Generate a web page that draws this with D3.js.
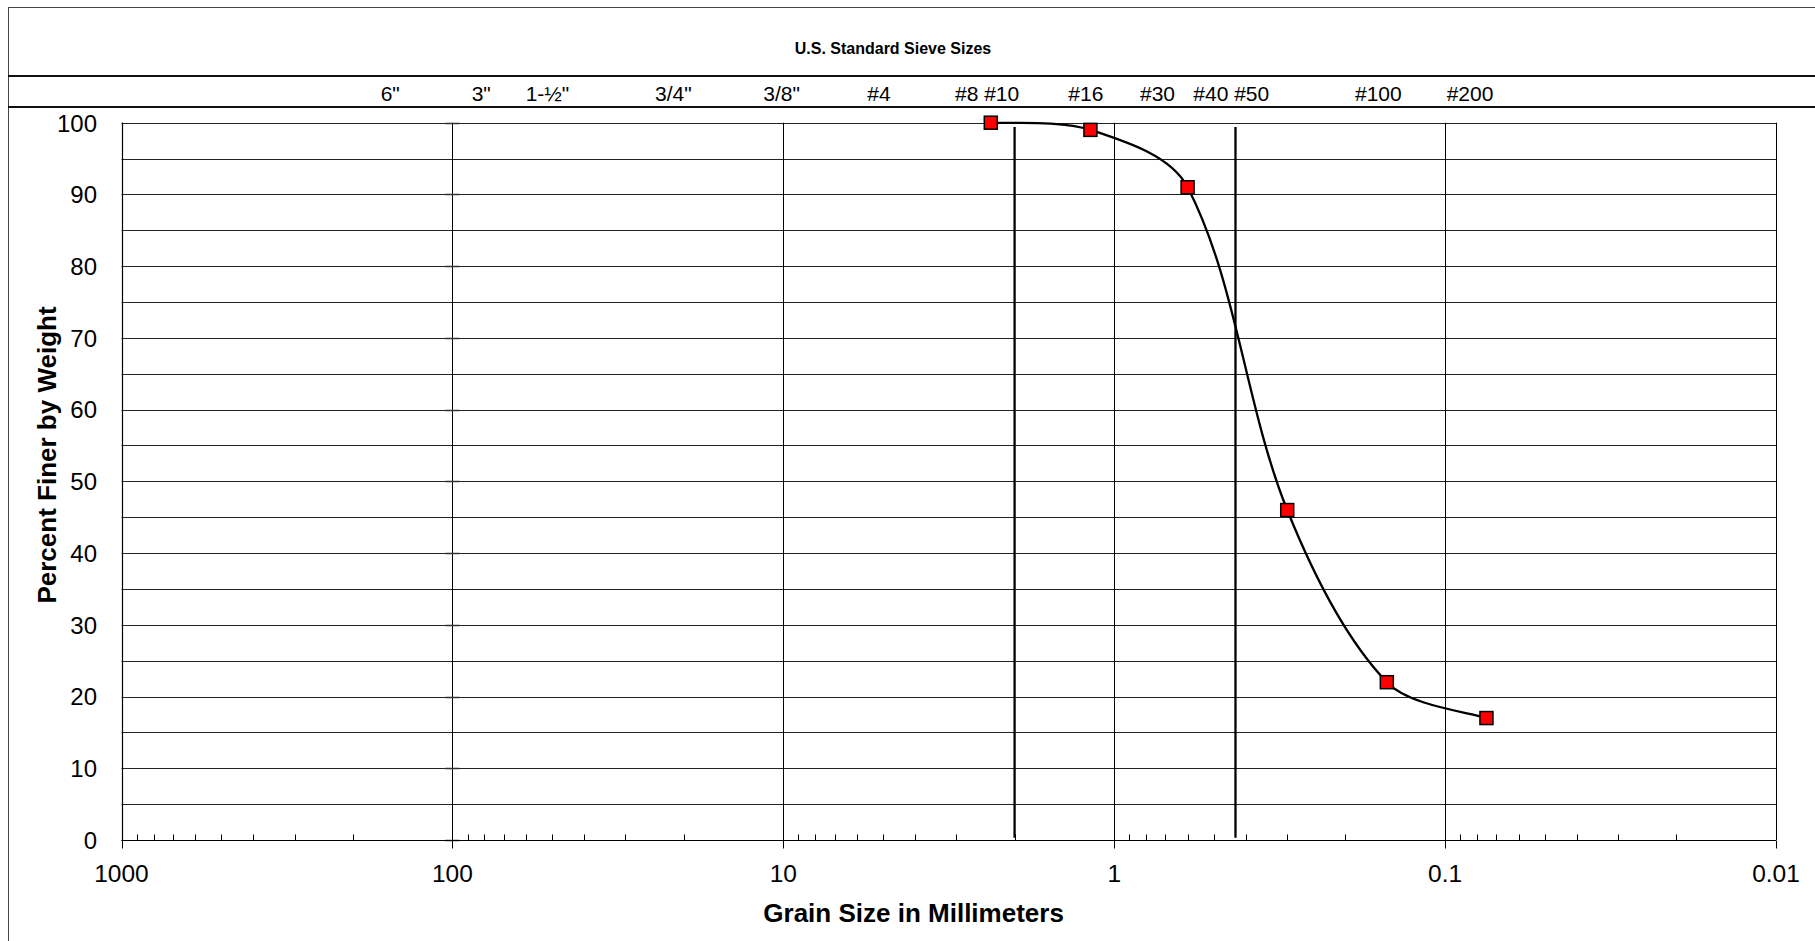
<!DOCTYPE html>
<html>
<head>
<meta charset="utf-8">
<script src="https://cdn.jsdelivr.net/npm/d3@7"></script>
<style>
  html, body { margin: 0; padding: 0; background: #fff; }
  svg { display: block; }
  text { font-family: "Liberation Sans", Arial, sans-serif; fill: #000; }
</style>
</head>
<body>
<svg id="chart" width="1815" height="941"></svg>
<script>
// Sieve analysis results: grain size (mm) and percent passing
const sieveSizesMm = [2.36, 1.18, 0.6, 0.3, 0.15, 0.075];
const percentFiner = [100, 99, 91, 46, 22, 17];

// Gravel / sand / fines boundary lines (mm)
const boundarySizesMm = [2.0, 0.43];

// U.S. standard sieve designations shown in the header row
const sieveLabels = ['6"', '3"', '1-½"', '3/4"', '3/8"', '#4', '#8 #10', '#16', '#30', '#40 #50', '#100', '#200'];

// Axis ticks
const xTickValues = [1000, 100, 10, 1, 0.1, 0.01];
const xTickLabels = ['1000', '100', '10', '1', '0.1', '0.01'];
const yTickValues = [0, 10, 20, 30, 40, 50, 60, 70, 80, 90, 100];
const yTickLabels = ['0', '10', '20', '30', '40', '50', '60', '70', '80', '90', '100'];

// Header label left edges (layout)
const headerLabelX = [380.7, 471.7, 525.7, 655, 763.3, 867.3, 955, 1068.3, 1140, 1193.3, 1355, 1446.7];

const svg = d3.select('#chart');
const W = 1815, H = 941;
const plot = { left: 121.5, right: 1776, top: 122.7, bottom: 840 };

const x = d3.scaleLog().domain([1000, 0.01]).range([plot.left, plot.right]);
const y = d3.scaleLinear().domain([0, 100]).range([plot.bottom, plot.top]);

svg.append('rect').attr('width', W).attr('height', H).attr('fill', '#fff');

// Outer frame
svg.append('rect')
  .attr('x', 8.5).attr('y', 7.5).attr('width', W).attr('height', H)
  .attr('fill', 'none').attr('stroke', '#444').attr('stroke-width', 1);

// Header band
svg.append('text')
  .attr('x', 893).attr('y', 54)
  .attr('text-anchor', 'middle')
  .attr('font-size', 16).attr('font-weight', 'bold')
  .text('U.S. Standard Sieve Sizes');

[76, 107].forEach(yy => {
  svg.append('line')
    .attr('x1', 8).attr('x2', W).attr('y1', yy).attr('y2', yy)
    .attr('stroke', '#111').attr('stroke-width', 2);
});

svg.append('g').selectAll('text')
  .data(sieveLabels)
  .join('text')
  .attr('x', (d, i) => headerLabelX[i])
  .attr('y', 100.7)
  .attr('font-size', 21)
  .text(d => d);

// Horizontal gridlines every 5 %
const gridY = d3.range(0, 101, 5);
svg.append('g').selectAll('line')
  .data(gridY)
  .join('line')
  .attr('x1', plot.left).attr('x2', plot.right)
  .attr('y1', d => Math.round(y(d)) + 0.5).attr('y2', d => Math.round(y(d)) + 0.5)
  .attr('stroke', '#222').attr('stroke-width', 1);

// Vertical decade gridlines
svg.append('g').selectAll('line')
  .data(xTickValues)
  .join('line')
  .attr('x1', d => Math.round(x(d)) + 0.5).attr('x2', d => Math.round(x(d)) + 0.5)
  .attr('y1', plot.top).attr('y2', plot.bottom)
  .attr('stroke', '#000').attr('stroke-width', 1);

// Small crossing ticks on the 100 mm line
svg.append('g').selectAll('line')
  .data(yTickValues)
  .join('line')
  .attr('x1', x(100) - 7).attr('x2', x(100) + 7)
  .attr('y1', d => Math.round(y(d)) + 0.5).attr('y2', d => Math.round(y(d)) + 0.5)
  .attr('stroke', '#333').attr('stroke-width', 1.5);

// X axis: decade ticks below, minor ticks inside
const xAxisY = Math.round(plot.bottom) + 0.5;
svg.append('line')
  .attr('x1', plot.left).attr('x2', plot.right)
  .attr('y1', xAxisY).attr('y2', xAxisY)
  .attr('stroke', '#000').attr('stroke-width', 1.2);

svg.append('g').selectAll('line')
  .data(xTickValues)
  .join('line')
  .attr('x1', d => Math.round(x(d)) + 0.5).attr('x2', d => Math.round(x(d)) + 0.5)
  .attr('y1', xAxisY).attr('y2', xAxisY + 8)
  .attr('stroke', '#000').attr('stroke-width', 1);

const minorTicks = [];
[100, 10, 1, 0.1, 0.01].forEach(base => {
  for (let k = 2; k <= 9; k++) minorTicks.push(base * k);
});
svg.append('g').selectAll('line')
  .data(minorTicks)
  .join('line')
  .attr('x1', d => Math.round(x(d)) + 0.5).attr('x2', d => Math.round(x(d)) + 0.5)
  .attr('y1', xAxisY - 6).attr('y2', xAxisY)
  .attr('stroke', '#000').attr('stroke-width', 1);

svg.append('g').selectAll('text')
  .data(xTickValues)
  .join('text')
  .attr('x', d => x(d))
  .attr('y', 881.5)
  .attr('text-anchor', 'middle')
  .attr('font-size', 24.5)
  .text((d, i) => xTickLabels[i]);

// Y axis
svg.append('line')
  .attr('x1', Math.round(plot.left) + 0.5).attr('x2', Math.round(plot.left) + 0.5)
  .attr('y1', plot.top).attr('y2', plot.bottom)
  .attr('stroke', '#000').attr('stroke-width', 1.2);

svg.append('g').selectAll('text')
  .data(yTickValues)
  .join('text')
  .attr('x', 97)
  .attr('y', d => y(d) + 8.8)
  .attr('text-anchor', 'end')
  .attr('font-size', 24)
  .text((d, i) => yTickLabels[i]);

// Axis titles
svg.append('text')
  .attr('x', 913.6).attr('y', 921.5)
  .attr('text-anchor', 'middle')
  .attr('font-size', 26).attr('font-weight', 'bold')
  .text('Grain Size in Millimeters');

svg.append('text')
  .attr('transform', 'translate(56,455) rotate(-90)')
  .attr('text-anchor', 'middle')
  .attr('font-size', 26).attr('font-weight', 'bold')
  .text('Percent Finer by Weight');

// Boundary lines
svg.append('g').selectAll('line')
  .data(boundarySizesMm)
  .join('line')
  .attr('x1', d => x(d)).attr('x2', d => x(d))
  .attr('y1', y(99.4)).attr('y2', y(0.3))
  .attr('stroke', '#000').attr('stroke-width', 2.3);

// Gradation curve: spreadsheet-style smoothing, Bezier control points
// from neighbouring points weighted by chord lengths
function smoothLine(p) {
  const path = d3.path();
  const dist = (a, b) => Math.hypot(b[0] - a[0], b[1] - a[1]);
  path.moveTo(p[0][0], p[0][1]);
  for (let i = 0; i < p.length - 1; i++) {
    const p0 = p[Math.max(i - 1, 0)], p1 = p[i], p2 = p[i + 1], p3 = p[Math.min(i + 2, p.length - 1)];
    const d01 = dist(p0, p1), d12 = dist(p1, p2), d23 = dist(p2, p3);
    const f1 = i === 0 ? 1 / 6 : d12 / (d01 + d12) / 3;
    const f2 = i === p.length - 2 ? 1 / 6 : d12 / (d12 + d23) / 3;
    const c1 = [p1[0] + (p2[0] - p0[0]) * f1, p1[1] + (p2[1] - p0[1]) * f1];
    const c2 = [p2[0] - (p3[0] - p1[0]) * f2, p2[1] - (p3[1] - p1[1]) * f2];
    path.bezierCurveTo(c1[0], c1[1], c2[0], c2[1], p2[0], p2[1]);
  }
  return path.toString();
}

const pts = sieveSizesMm.map((s, i) => [x(s), y(percentFiner[i])]);
svg.append('path')
  .attr('d', smoothLine(pts))
  .attr('fill', 'none').attr('stroke', '#000').attr('stroke-width', 2.3);

// Markers
const ms = 13;
svg.append('g').selectAll('rect')
  .data(pts)
  .join('rect')
  .attr('x', d => d[0] - ms / 2).attr('y', d => d[1] - ms / 2)
  .attr('width', ms).attr('height', ms)
  .attr('fill', '#ff0000').attr('stroke', '#000').attr('stroke-width', 1.5);
</script>
</body>
</html>
